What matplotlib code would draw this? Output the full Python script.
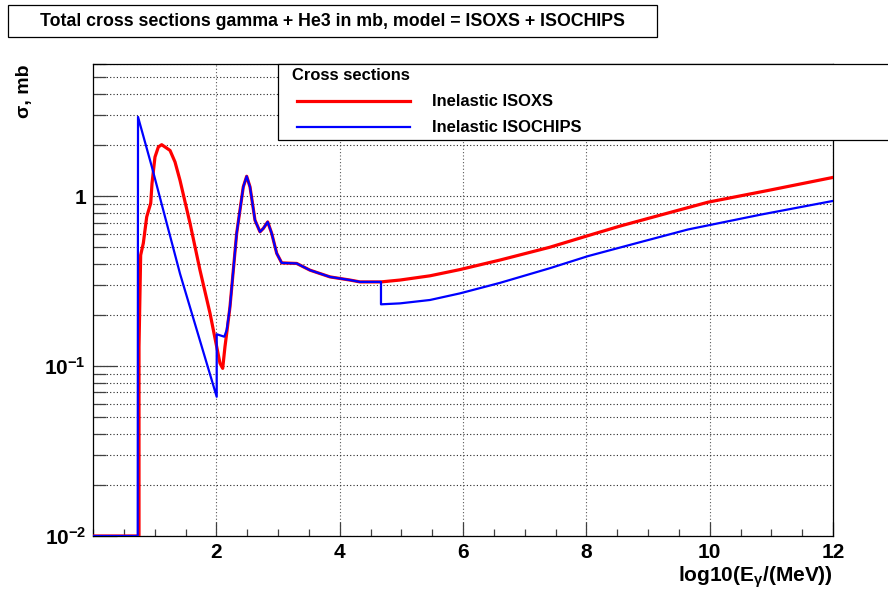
import matplotlib
matplotlib.use("Agg")
import matplotlib.pyplot as plt
from matplotlib.patches import Rectangle
from matplotlib.lines import Line2D
from matplotlib.ticker import MultipleLocator, LogLocator, NullFormatter

plt.rcParams['font.family'] = ['Liberation Sans', 'DejaVu Sans']
plt.rcParams['font.weight'] = 'bold'
plt.rcParams['mathtext.fontset'] = 'custom'
plt.rcParams['mathtext.rm'] = 'Liberation Sans:bold'
plt.rcParams['mathtext.it'] = 'Liberation Sans:bold'
plt.rcParams['mathtext.bf'] = 'Liberation Sans:bold'
plt.rcParams['mathtext.default'] = 'rm'

# log10(E/MeV) vs total cross section (mb)
isoxs_x = [0.0, 0.746, 0.746, 0.773, 0.816, 0.871, 0.936, 0.957, 1.005, 1.060, 1.114,
           1.249, 1.33, 1.411, 1.573, 1.735, 1.897, 2.006, 2.059, 2.103, 2.14, 2.168,
           2.221, 2.33, 2.437, 2.492, 2.546, 2.627, 2.708, 2.762, 2.833, 2.898,
           2.979, 3.06, 3.303, 3.519, 3.843, 4.167, 4.33, 4.67, 4.978, 5.465,
           5.951, 6.6, 7.41, 8.027, 8.546, 9.194, 9.973, 10.98, 12.0]
isoxs_y = [0.01, 0.01, 0.130, 0.450, 0.529, 0.756, 0.910, 1.19, 1.70, 1.95, 2.01,
           1.86, 1.59, 1.24, 0.694, 0.367, 0.205, 0.130, 0.104, 0.097, 0.130, 0.156,
           0.223, 0.606, 1.135, 1.31, 1.135, 0.722, 0.617, 0.646, 0.706, 0.604,
           0.461, 0.405, 0.402, 0.367, 0.335, 0.321, 0.313, 0.313, 0.321, 0.340,
           0.370, 0.421, 0.501, 0.586, 0.667, 0.773, 0.922, 1.087, 1.29]

isochips_x = [0.0, 0.725, 0.73, 0.952, 1.411, 2.006, 2.006, 2.129, 2.168,
              2.221, 2.33, 2.437, 2.492, 2.546, 2.627, 2.708, 2.762, 2.833, 2.898,
              2.979, 3.06, 3.303, 3.519, 3.843, 4.167, 4.33, 4.67, 4.67, 4.978,
              5.465, 5.951, 6.6, 7.41, 8.027, 8.87, 9.648, 10.82, 12.0]
isochips_y = [0.01, 0.01, 2.93, 1.50, 0.35, 0.066, 0.154, 0.149, 0.163,
              0.223, 0.606, 1.135, 1.31, 1.135, 0.722, 0.617, 0.646, 0.706, 0.604,
              0.461, 0.405, 0.402, 0.367, 0.335, 0.321, 0.313, 0.313, 0.231, 0.234,
              0.245, 0.268, 0.309, 0.377, 0.444, 0.536, 0.637, 0.778, 0.938]

ytick_vals = [0.01, 0.1, 1]
ytick_labels = ['$10^{-2}$', '$10^{-1}$', '1']
xtick_vals = [2, 4, 6, 8, 10, 12]

W, H = 888, 595
fig = plt.figure(figsize=(W / 100, H / 100), dpi=100)
ax = fig.add_axes([93 / W, 1 - 536 / H, (833 - 93) / W, (536 - 64) / H])

ax.plot(isoxs_x, isoxs_y, color='#ff0000', lw=2.3, zorder=3)
ax.plot(isochips_x, isochips_y, color='#0000ff', lw=1.6, zorder=4)

ax.set_yscale('log')
ax.set_xlim(0, 12)
ax.set_ylim(0.01, 6)

ax.set_xticks(xtick_vals)
ax.xaxis.set_minor_locator(MultipleLocator(0.5))
ax.set_yticks(ytick_vals, ytick_labels)
ax.yaxis.set_minor_locator(LogLocator(base=10, subs=range(2, 10)))
ax.yaxis.set_minor_formatter(NullFormatter())

ax.tick_params(axis='both', which='both', direction='in', labelsize=15,
               top=False, right=False, width=0.9, color='0.25')
ax.tick_params(axis='x', which='major', length=10, pad=5)
ax.tick_params(axis='x', which='minor', length=5)
ax.tick_params(axis='y', which='major', length=17, pad=5)
ax.tick_params(axis='y', which='minor', length=9)

ax.grid(axis='x', which='major', linestyle=(0, (1, 2)), color='0.35', lw=0.8)
ax.grid(axis='y', which='both', linestyle=(0, (1, 2)), color='0.15', lw=0.8)
for s in ax.spines.values():
    s.set_linewidth(0.9)

# axis titles
fig.text(24 / W, 1 - 65 / H, 'σ, mb', rotation=90, ha='center', va='top',
         fontsize=14)
fig.text(833 / W, 1 - 577 / H, 'log10(E$_{γ}$/(MeV))', ha='right', va='center', fontsize=15)

# title box
fig.add_artist(Rectangle((8 / W, 1 - 37 / H), (657 - 8) / W, 32 / H,
                         transform=fig.transFigure, facecolor='white',
                         edgecolor='black', lw=0.9))
fig.text(332 / W, 1 - 21 / H,
         'Total cross sections gamma + He3 in mb, model = ISOXS + ISOCHIPS',
         ha='center', va='center', fontsize=12.8)

# legend box
fig.add_artist(Rectangle((278 / W, 1 - 140 / H), (900 - 278) / W, 76 / H,
                         transform=fig.transFigure, facecolor='white',
                         edgecolor='black', lw=0.9, zorder=5))
fig.text(292 / W, 1 - 76 / H, 'Cross sections', ha='left', va='center',
         fontsize=11.9, zorder=6)
fig.add_artist(Line2D([297 / W, 410 / W], [1 - 101 / H, 1 - 101 / H],
                      color='#ff0000', lw=2.3, zorder=6))
fig.add_artist(Line2D([297 / W, 410 / W], [1 - 127 / H, 1 - 127 / H],
                      color='#0000ff', lw=1.6, zorder=6))
fig.text(432 / W, 1 - 101 / H, 'Inelastic ISOXS', ha='left', va='center',
         fontsize=11.9, zorder=6)
fig.text(432 / W, 1 - 127 / H, 'Inelastic ISOCHIPS', ha='left', va='center',
         fontsize=11.9, zorder=6)

fig.savefig('out.png', dpi=100)
